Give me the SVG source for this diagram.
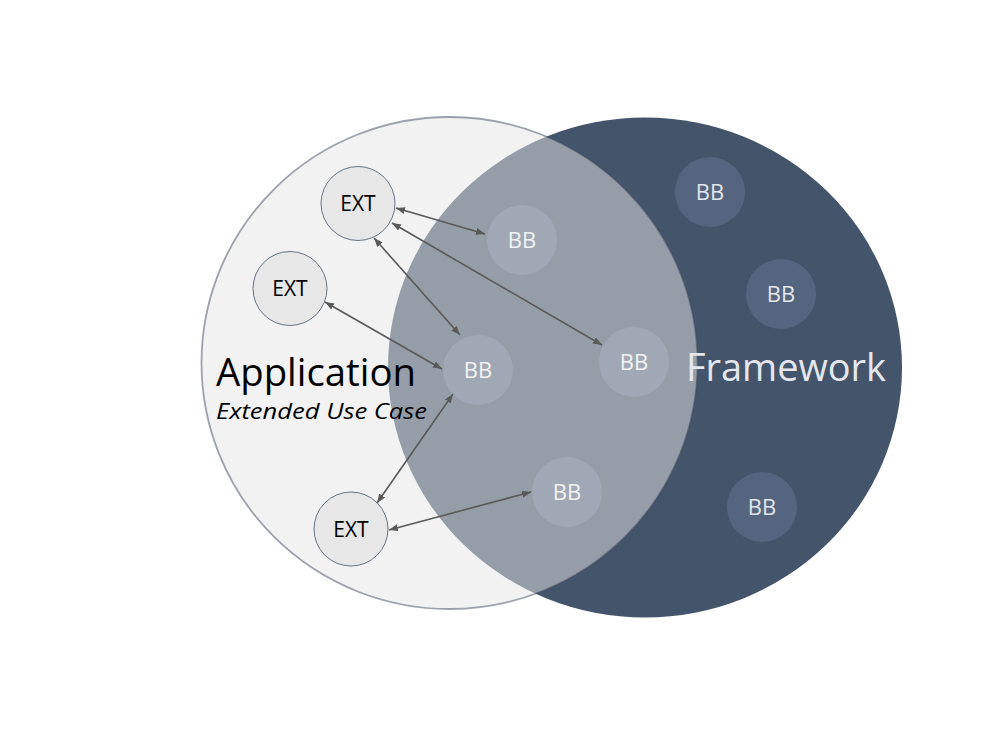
<svg xmlns="http://www.w3.org/2000/svg" width="1008" height="756" viewBox="0 0 1008 756">
<style>
  .bb circle { fill: #55657f; }
  .bb text { fill: #e2e6ec; font-family: "Open Sans", "Liberation Sans", sans-serif; font-size: 22px; text-anchor: middle; }
  .bb.ov circle { fill: #5a6a84; }
  .bb.ov text { fill: #ffffff; }
  .ext circle { fill: #e7e7e7; stroke: #44546a; stroke-width: 0.8; }
  .ext text { fill: #000; font-family: "Open Sans", "Liberation Sans", sans-serif; font-size: 21px; text-anchor: middle; }
  .conn line { stroke: #595959; stroke-width: 1.6; marker-start: url(#ah); marker-end: url(#ah); }
  .lbl { font-family: "Open Sans", "Liberation Sans", sans-serif; }
</style>
<defs>
  <marker id="ah" markerUnits="userSpaceOnUse" markerWidth="9" markerHeight="7" refX="9" refY="3.5" orient="auto-start-reverse">
    <path d="M0,0 L9,3.5 L0,7 z" fill="#595959"/>
  </marker>
</defs>
<rect width="1008" height="756" fill="#ffffff"/>

<g id="framework">
  <ellipse cx="645" cy="367.5" rx="257" ry="250" fill="#44546a"/>
</g>

<g id="bb1" class="bb ov"><circle cx="522" cy="240" r="35"/><text x="522" y="248">BB</text></g>
<g id="bb2" class="bb ov"><circle cx="478" cy="370" r="35"/><text x="478" y="378">BB</text></g>
<g id="bb3" class="bb ov"><circle cx="634" cy="362" r="35"/><text x="634" y="370">BB</text></g>
<g id="bb4" class="bb ov"><circle cx="567" cy="492" r="35"/><text x="567" y="500">BB</text></g>

<g id="application">
  <ellipse cx="449.5" cy="363" rx="248" ry="246" fill="#e5e5e5" fill-opacity="0.5" stroke="#3f4a5e" stroke-opacity="0.5" stroke-width="1.8"/>
</g>

<g id="bb5" class="bb"><circle cx="710" cy="192" r="35"/><text x="710" y="200">BB</text></g>
<g id="bb6" class="bb"><circle cx="781" cy="294" r="35"/><text x="781" y="302">BB</text></g>
<g id="bb7" class="bb"><circle cx="762" cy="507" r="35"/><text x="762" y="515">BB</text></g>

<g id="ext1" class="ext"><circle cx="358" cy="203.5" r="37"/><text x="358" y="211">EXT</text></g>
<g id="ext2" class="ext"><circle cx="290" cy="288.5" r="37"/><text x="290" y="296">EXT</text></g>
<g id="ext3" class="ext"><circle cx="351" cy="529" r="37"/><text x="351" y="536.5">EXT</text></g>

<g id="labels">
  <text class="lbl" x="216" y="386" font-size="39" fill="#000" textLength="200" lengthAdjust="spacingAndGlyphs">Application</text>
  <text class="lbl" x="216" y="419" font-size="21" font-style="italic" fill="#000" textLength="211" lengthAdjust="spacingAndGlyphs">Extended Use Case</text>
  <text class="lbl" x="686" y="381" font-size="39" fill="#e4e8ee" textLength="200" lengthAdjust="spacingAndGlyphs">Framework</text>
</g>

<g id="connectors" class="conn">
  <line x1="396" y1="208" x2="485" y2="234"/>
  <line x1="392" y1="223" x2="602" y2="345"/>
  <line x1="374" y1="238" x2="460" y2="335"/>
  <line x1="325" y1="302" x2="442" y2="369"/>
  <line x1="377" y1="503" x2="453" y2="394"/>
  <line x1="389" y1="530" x2="531" y2="492"/>
</g>
</svg>
